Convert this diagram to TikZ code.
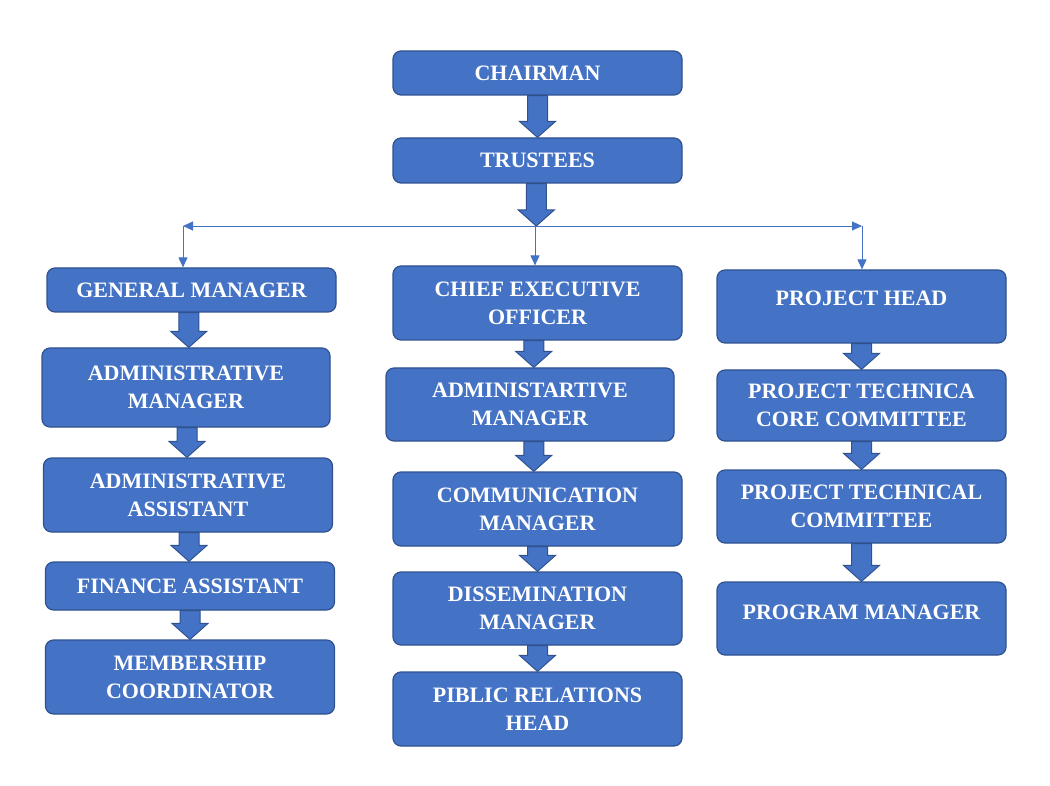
\documentclass[tikz,border=0pt]{standalone}
\usepackage{fontspec}
\setmainfont{Liberation Serif}
\usetikzlibrary{calc,arrows.meta}
\definecolor{boxblue}{HTML}{4472C4}
\definecolor{boxedge}{HTML}{2F528F}
\newcommand{\blockarrow}[2]{%
	\path[fill=boxblue, draw=boxedge, line width=1pt, line join=miter]
	let \p1=(#1), \p2=(#2), \p3=($(#1)!0.5!(#2)$) in
	(\x3-10pt,\y1) -- (\x3-10pt,\y2+16pt) -- (\x3-18pt,\y2+16pt) -- (\x3,\y2)
	-- (\x3+18pt,\y2+16pt) -- (\x3+10pt,\y2+16pt) -- (\x3+10pt,\y1) -- cycle;}

\begin{document}
\begin{tikzpicture}[x=1pt, y=-1pt,
	box/.style={draw=boxedge, fill=boxblue, line width=1.2pt, rounded corners=8pt,
		minimum width=289pt, inner sep=0pt, text=white, align=center,
		font=\bfseries\fontsize{22}{28}\selectfont},
	link/.style={draw=boxblue, line width=0.9pt, -{Triangle[length=10pt, width=9pt]}}]
	\useasboundingbox (0,0) rectangle (1050,786);
	\node[box, minimum height=44pt] (chair) at (537.5, 73) {CHAIRMAN};
	\node[box, minimum height=45pt] (tru) at (537.5, 160.5) {TRUSTEES};
	\node[box, minimum height=44pt] (gm) at (191.5, 290) {GENERAL MANAGER};
	\node[box, minimum height=79pt, minimum width=288pt] (am) at (186, 387.5) {ADMINISTRATIVE\\MANAGER};
	\node[box, minimum height=74pt] (aa) at (188, 495) {ADMINISTRATIVE\\ASSISTANT};
	\node[box, minimum height=48pt] (fa) at (190, 586) {FINANCE ASSISTANT};
	\node[box, minimum height=74pt] (mc) at (190, 677) {MEMBERSHIP\\COORDINATOR};
	\node[box, minimum height=74pt] (ceo) at (537.5, 303) {CHIEF EXECUTIVE\\OFFICER};
	\node[box, minimum height=73pt, minimum width=288pt] (adm) at (530, 404.5) {ADMINISTARTIVE\\MANAGER};
	\node[box, minimum height=74pt] (cm) at (537.5, 509) {COMMUNICATION\\MANAGER};
	\node[box, minimum height=73pt] (dm) at (537.5, 608.5) {DISSEMINATION\\MANAGER};
	\node[box, minimum height=74pt] (pr) at (537.5, 709) {PIBLIC RELATIONS\\HEAD};
	\node[box, minimum height=73pt, text depth=16pt] (ph) at (861.5, 306.5) {PROJECT HEAD};
	\node[box, minimum height=71pt] (ptcc) at (861.5, 405.5) {PROJECT TECHNICA\\CORE COMMITTEE};
	\node[box, minimum height=73pt] (ptc) at (861.5, 506.5) {PROJECT TECHNICAL\\COMMITTEE};
	\node[box, minimum height=73pt, text depth=13pt] (pm) at (861.5, 618.5) {PROGRAM MANAGER};
	\coordinate (split) at (535, 226);
	\coordinate (lft) at (183, 226);
	\coordinate (rgt) at (862, 226);
	\blockarrow{chair.south}{tru.north}
	\blockarrow{tru.south}{split}
	\draw[link] (split) -- (lft);
	\draw[link] (split) -- (rgt);
	\draw[link] (lft) -- (lft |- gm.north);
	\draw[link] (split) -- (split |- ceo.north);
	\draw[link] (rgt) -- (rgt |- ph.north);
	\blockarrow{gm.south}{am.north}
	\blockarrow{am.south}{aa.north}
	\blockarrow{aa.south}{fa.north}
	\blockarrow{fa.south}{mc.north}
	\blockarrow{ceo.south}{adm.north}
	\blockarrow{adm.south}{cm.north}
	\blockarrow{cm.south}{dm.north}
	\blockarrow{dm.south}{pr.north}
	\blockarrow{ph.south}{ptcc.north}
	\blockarrow{ptcc.south}{ptc.north}
	\blockarrow{ptc.south}{pm.north}
\end{tikzpicture}
\end{document}
